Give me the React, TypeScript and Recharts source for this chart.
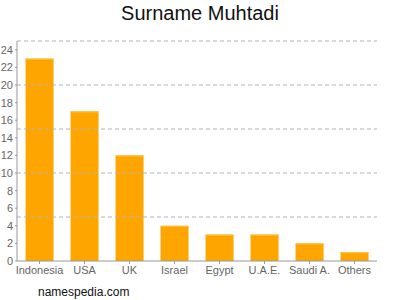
import { Bar, BarChart, ReferenceLine, XAxis, YAxis } from "recharts";

const countries = ["Indonesia", "USA", "UK", "Israel", "Egypt", "U.A.E.", "Saudi A.", "Others"];
const counts = [23, 17, 12, 4, 3, 3, 2, 1];
const yTicks = [0, 2, 4, 6, 8, 10, 12, 14, 16, 18, 20, 22, 24];
const gridValues = [5, 10, 15, 20, 25];

const data = countries.map((name, i) => ({ name, value: counts[i] }));

const FONT = "'Liberation Sans', Arial, Helvetica, sans-serif";
const ORANGE = "#ffa500";

function OrangeBar(props: any) {
  const { x, y, width, height } = props;
  if (!height || height <= 0) return null;
  return (
    <g>
      <rect x={x} y={y} width={width} height={height} fill={ORANGE} />
      <rect x={x} y={y} width={width} height={1} fill="#ffc04d" />
    </g>
  );
}

export default function App() {
  return (
    <div
      style={{
        position: "absolute",
        left: 0,
        top: 0,
        width: 400,
        height: 300,
        background: "#fff",
        fontFamily: FONT,
      }}
    >
      <div
        style={{
          position: "absolute",
          top: 2,
          left: 0,
          width: 400,
          textAlign: "center",
          fontSize: 20,
          color: "#111",
        }}
      >
        Surname Muhtadi
      </div>
      <BarChart
        width={400}
        height={300}
        data={data}
        margin={{ top: 41, right: 23, bottom: 0, left: 0 }}
        barCategoryGap="19%"
      >
        {gridValues.map((v) => (
          <ReferenceLine
            key={v}
            y={v}
            stroke="#b3b3b3"
            strokeDasharray="4 3"
            ifOverflow="extendDomain"
          />
        ))}
        <XAxis
          dataKey="name"
          height={39}
          interval={0}
          stroke="#999"
          tickSize={3}
          tick={{ fill: "#666", fontSize: 11, fontFamily: FONT }}
        />
        <YAxis
          width={17}
          domain={[0, 25]}
          ticks={yTicks}
          interval={0}
          stroke="#999"
          tickSize={2}
          tick={{ fill: "#666", fontSize: 11, fontFamily: FONT }}
        />
        <Bar dataKey="value" shape={<OrangeBar />} isAnimationActive={false} />
      </BarChart>
      <div
        style={{
          position: "absolute",
          top: 285,
          left: 38,
          fontSize: 12,
          color: "#111",
        }}
      >
        namespedia.com
      </div>
    </div>
  );
}
